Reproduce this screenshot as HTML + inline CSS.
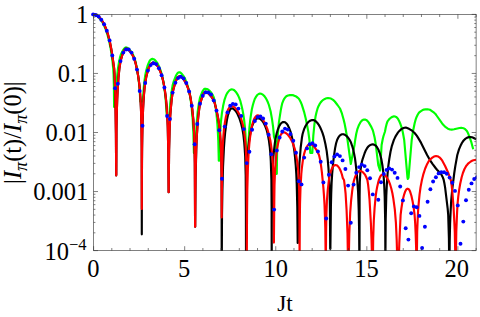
<!DOCTYPE html>
<html>
<head>
<meta charset="utf-8">
<title>|I_pi(t)/I_pi(0)| vs Jt</title>
<style>
html,body{margin:0;padding:0;background:#fff;}
body{width:480px;height:317px;overflow:hidden;font-family:"Liberation Serif",serif;}
svg{display:block;}
text{font-family:"Liberation Serif",serif;fill:#000;}
</style>
</head>
<body>
<svg width="480" height="317" viewBox="0 0 480 317">
<rect width="480" height="317" fill="#fff"/>
<defs><clipPath id="c"><rect x="90.6" y="11.4" width="385.9" height="239.6"/></clipPath></defs>
<g clip-path="url(#c)" fill="none" stroke-linejoin="round" stroke-linecap="butt">
<path stroke="#00ff00" stroke-width="2.15" d="M93.5 14.4L96.1 15.4L97.3 16.1L98.3 16.9L100.3 19.2L102.5 22.4L104.3 26.0L106.1 30.4L107.8 35.9L109.2 41.5L110.5 47.7L111.4 53.3L112.7 63.1L113.3 70.0L113.6 74.6L113.9 85.9L114.1 107.0L115.4 107.0L116.0 92.2L116.8 79.9L117.8 69.9L119.1 61.5L120.1 57.0L120.8 54.7L122.2 51.8L123.6 49.3L124.4 48.3L125.2 47.7L126.2 47.4L127.3 47.8L128.9 48.9L130.4 50.6L131.9 52.6L133.2 55.1L134.2 57.3L135.1 60.0L136.6 66.6L137.7 73.1L138.5 78.6L139.6 89.0L140.3 101.5L142.7 101.5L143.8 87.3L144.4 81.5L145.1 76.3L145.8 72.4L146.7 68.8L147.6 65.7L148.8 62.7L149.6 61.0L150.6 59.8L151.5 59.1L152.5 58.9L153.6 59.2L154.8 60.0L156.0 61.3L157.3 63.0L159.1 66.6L160.8 71.0L162.0 75.4L163.3 81.3L164.5 89.0L165.4 96.4L166.1 105.2L166.7 115.0L169.4 115.0L170.2 103.7L171.2 94.1L172.6 85.4L173.7 81.5L175.8 76.1L176.5 74.7L177.1 73.7L177.9 72.8L178.7 72.4L179.6 72.3L180.4 72.6L181.8 73.8L183.2 75.6L184.7 78.0L186.0 81.1L187.3 84.6L188.5 88.7L189.3 92.0L190.2 96.7L191.6 106.8L192.7 120.0L193.4 134.0L193.9 153.0L195.2 153.0L195.9 136.5L196.7 122.8L197.7 111.7L199.0 102.6L200.0 97.7L201.9 92.8L203.0 90.6L203.7 89.6L204.5 88.9L205.3 88.7L206.9 89.0L208.4 89.8L209.9 91.1L211.3 92.8L212.6 94.8L213.7 97.1L214.8 101.7L215.4 105.8L216.1 110.6L217.1 120.4L217.6 127.1L218.3 140.7L218.8 160.6L219.3 160.6L219.7 145.6L220.2 132.4L220.9 122.2L221.9 113.3L223.1 106.1L224.4 100.2L226.0 95.5L226.9 93.6L227.9 92.1L229.4 90.4L230.2 89.9L231.0 89.5L231.8 89.4L232.6 89.5L233.4 89.7L234.3 90.2L235.9 91.9L237.5 94.3L239.0 97.4L240.4 101.2L241.5 105.4L242.5 109.9L243.4 114.8L244.2 120.5L244.9 126.8L245.4 133.4L246.3 150.0L248.2 150.0L249.0 133.6L249.5 126.8L250.2 120.3L251.0 114.7L251.8 109.6L252.8 105.3L253.9 101.5L254.9 98.7L256.1 96.6L257.3 95.0L258.6 94.0L259.9 93.6L261.4 93.8L262.9 94.7L264.4 96.1L265.6 97.8L266.7 99.8L267.9 102.3L268.9 105.0L270.6 111.3L272.0 119.1L273.1 126.9L274.0 136.6L275.3 140.7L275.9 144.9L276.2 157.0L276.5 174.0L276.7 174.0L276.8 173.7L277.1 150.9L277.5 141.6L277.9 134.0L278.9 122.4L280.7 110.6L281.5 106.5L282.3 103.1L283.2 100.8L284.2 98.8L285.2 97.4L286.3 96.3L288.0 95.5L289.9 95.1L291.9 95.0L293.7 95.4L295.6 96.2L297.5 97.5L298.9 98.8L299.5 99.8L300.7 102.0L301.8 104.7L304.0 111.6L305.6 118.0L306.6 122.8L308.3 131.6L309.5 140.5L310.3 153.0L312.3 153.0L313.3 135.9L314.4 124.5L315.6 116.2L316.5 112.2L317.5 108.7L318.2 106.8L319.4 104.4L320.6 102.5L321.9 101.0L323.3 99.8L324.8 98.9L326.4 98.3L328.0 98.1L329.8 98.3L331.4 98.8L333.1 99.9L334.8 101.5L337.5 105.0L340.0 108.5L341.7 112.8L343.6 119.5L344.7 124.1L345.6 128.8L347.5 139.8L350.8 164.0L354.5 145.0L355.2 139.9L356.3 133.5L357.3 129.4L359.0 124.9L360.1 122.9L361.0 121.5L362.0 120.5L363.0 119.8L364.1 119.5L365.2 119.6L366.1 119.9L367.0 120.5L367.9 121.4L368.8 122.6L371.4 127.1L372.8 130.2L373.1 131.3L374.5 136.9L375.6 143.2L378.3 165.2L380.1 170.6L381.6 145.0L382.8 138.7L383.5 136.0L385.0 131.5L385.7 127.7L386.5 124.4L387.5 121.4L388.7 119.8L389.9 118.5L391.2 117.5L392.5 116.8L394.0 116.4L395.1 116.5L396.1 116.9L397.2 117.8L398.2 119.2L399.1 120.9L400.1 123.2L401.4 126.8L402.3 130.1L402.9 132.7L404.2 140.0L407.5 177.8L407.8 179.0L408.5 177.8L411.7 140.0L413.0 131.3L414.7 123.0L415.6 119.7L416.6 116.9L417.8 114.5L419.0 112.6L420.6 111.3L422.2 110.3L423.9 109.6L425.6 109.3L427.6 109.3L429.9 109.8L430.8 110.3L434.1 112.7L435.2 113.7L436.2 115.0L441.6 122.7L443.0 124.6L445.7 127.2L447.9 128.7L450.1 129.5L451.7 129.6L454.1 129.3L459.5 128.0L461.2 127.8L463.5 128.2L464.3 128.6L465.2 129.2L466.4 130.4L467.3 131.7L468.1 133.4L469.3 136.3L471.4 142.4L473.2 149.3"/>
<path stroke="#000" stroke-width="2.15" d="M93.5 14.4L95.2 14.8L96.8 15.4L98.4 16.5L99.7 17.6L101.5 19.9L102.9 22.0L104.2 24.5L105.5 27.4L106.6 30.3L107.8 33.8L109.7 41.0L111.5 50.2L113.3 62.3L114.1 68.2L114.5 73.3L115.3 94.0L115.9 133.1L116.2 175.5L116.3 174.6L116.5 128.7L116.8 112.5L117.2 99.8L117.8 87.6L118.5 77.4L119.4 68.5L120.5 61.1L122.2 55.4L124.1 50.7L124.7 49.6L125.4 48.9L126.2 48.6L126.9 48.7L128.2 49.5L129.7 51.0L131.2 52.9L132.6 55.3L134.4 59.3L135.4 62.4L136.2 66.0L138.2 75.8L139.5 85.6L140.4 97.3L141.1 112.0L141.5 129.0L141.7 147.7L141.8 234.3L141.9 178.9L142.1 148.7L142.5 125.7L143.1 108.1L144.0 94.1L144.6 87.7L145.3 82.4L146.2 77.2L147.3 72.8L148.6 68.4L149.9 65.6L150.8 64.2L151.7 63.2L152.7 62.8L153.7 62.7L154.7 63.2L155.9 64.1L157.1 65.5L158.2 67.3L159.3 69.2L160.3 71.5L162.1 76.6L163.6 83.1L165.0 91.2L165.9 98.4L166.7 106.7L167.2 115.5L167.7 126.3L168.3 152.4L168.6 192.2L168.7 192.2L168.7 190.8L169.1 150.0L169.7 127.2L170.2 116.4L170.9 107.6L171.7 99.4L172.6 92.5L174.3 86.0L176.4 79.9L177.1 78.4L177.9 77.2L178.8 76.6L179.6 76.3L180.7 76.5L181.9 77.4L183.3 78.8L184.5 80.7L185.8 82.9L187.0 85.5L188.1 88.3L189.1 91.5L190.0 95.2L190.8 99.3L192.3 109.4L193.3 119.6L194.1 132.4L194.5 146.6L194.8 163.2L195.1 226.7L195.2 226.7L195.6 177.7L196.3 149.2L196.8 136.9L197.5 125.4L198.3 116.2L199.3 108.1L200.0 103.8L201.8 98.3L203.6 93.7L204.3 92.6L205.1 91.9L205.8 91.7L206.5 91.9L207.6 92.6L208.8 93.7L211.4 96.7L213.7 100.3L214.7 103.2L215.6 106.6L217.6 115.2L218.5 120.4L219.3 125.5L219.8 130.7L220.7 143.8L221.3 159.4L221.6 180.9L221.7 262.0L221.8 259.9L222.0 215.5L222.4 190.8L223.0 167.3L223.9 148.3L224.5 139.6L225.2 132.0L226.1 125.3L226.9 120.0L227.9 115.3L229.0 112.0L230.1 109.6L230.7 108.9L231.3 108.5L232.1 108.3L233.0 108.6L234.1 109.4L235.3 110.6L236.3 112.0L237.4 113.7L239.3 118.0L240.9 122.8L242.3 128.4L243.4 134.8L244.2 142.2L244.7 148.7L245.2 156.5L245.7 175.4L245.9 206.3L246.0 262.0L246.1 219.5L246.4 190.5L246.9 170.0L247.9 153.2L248.5 146.1L249.2 139.7L250.2 134.1L251.2 129.3L252.4 125.2L253.7 122.2L255.1 119.9L255.9 119.1L256.7 118.6L257.6 118.3L258.6 118.3L259.7 118.7L260.8 119.4L261.9 120.4L262.9 121.8L263.9 123.4L264.8 125.2L266.5 129.5L267.8 134.5L268.9 140.3L269.8 147.3L270.4 153.9L270.8 161.0L271.4 180.0L271.6 205.9L271.7 262.0L271.8 220.3L272.1 191.0L272.6 171.4L273.4 156.7L274.1 149.6L274.8 143.3L275.7 137.7L276.7 133.2L277.9 129.3L279.2 126.1L280.6 123.9L281.3 123.1L282.1 122.5L283.0 122.1L283.9 122.0L284.8 122.2L285.6 122.7L286.5 123.5L287.4 124.6L289.0 127.7L290.6 131.8L291.9 136.9L293.1 142.9L294.2 149.8L295.0 157.0L295.7 164.8L296.3 174.0L296.7 183.4L297.3 207.2L297.7 243.0L297.8 243.0L298.1 207.7L298.4 189.8L298.8 175.7L299.4 163.7L300.7 147.5L302.0 137.2L302.6 134.0L303.2 132.0L304.2 128.9L305.4 126.2L306.6 124.2L307.9 122.5L309.2 121.3L310.5 120.5L312.0 120.1L313.4 120.1L314.7 120.6L316.0 121.5L317.4 123.0L318.8 124.9L320.1 127.2L321.3 129.9L322.5 132.9L323.6 136.3L324.5 139.9L325.4 144.0L326.7 151.1L327.7 159.4L328.5 168.7L329.1 179.3L329.6 190.8L329.9 206.1L330.2 248.8L330.4 248.8L330.4 246.0L330.9 206.8L331.2 194.0L331.6 183.2L332.2 173.3L333.0 164.2L333.8 157.2L335.1 148.1L336.1 143.3L337.2 139.7L338.1 137.9L339.0 136.5L340.0 135.4L341.0 134.7L342.0 134.3L343.0 134.2L344.0 134.4L345.2 135.0L346.3 135.8L347.5 137.0L348.6 138.4L349.7 140.0L351.0 142.6L352.1 145.8L353.2 149.4L354.1 153.7L355.0 158.4L355.7 163.8L357.0 176.4L358.1 191.9L358.7 209.4L359.1 228.9L359.4 262.0L359.5 262.0L359.6 195.9L359.8 181.7L360.3 173.0L360.7 168.9L361.2 165.1L361.9 161.8L362.7 158.8L364.7 153.0L365.6 150.8L366.9 148.4L368.3 146.5L369.4 145.6L370.5 144.9L371.6 144.5L372.8 144.4L373.9 144.6L374.9 145.1L375.9 145.8L376.8 146.9L377.6 148.2L378.5 149.8L380.0 153.9L381.3 159.0L382.4 165.2L383.2 171.7L383.8 178.7L384.3 187.3L384.7 196.8L385.2 222.4L385.4 262.0L385.7 219.6L386.3 195.4L386.8 185.2L387.5 174.7L388.3 166.2L389.3 158.9L390.5 151.8L391.9 145.8L393.8 140.1L395.3 136.9L396.5 134.8L397.9 132.7L399.1 131.2L400.4 129.9L401.7 128.9L403.0 128.2L404.4 127.7L405.8 127.6L409.0 128.8L412.1 130.7L414.6 133.0L416.9 135.9L418.3 138.1L421.1 142.9L427.1 154.9L429.8 159.8L432.5 163.8L435.6 168.0L437.0 169.7L439.9 172.7L441.1 174.1L442.5 176.7L443.6 179.5L444.3 182.7L445.1 187.4L447.7 208.9L448.2 214.8L448.9 237.8L449.2 262.0L449.5 262.0L449.7 241.3L450.1 223.4L450.6 211.9L451.2 200.6L452.3 188.8L454.2 173.5L455.3 166.1L457.3 155.0L459.0 149.4L460.9 144.9L461.9 143.0L463.0 141.3L464.1 140.0L465.3 138.9L466.5 138.0L467.8 137.4L469.2 137.1L470.6 137.0L472.0 137.2L473.3 137.7L474.7 138.5L476.0 139.5"/>
<path stroke="#ff0000" stroke-width="2.15" d="M93.5 14.4L95.2 14.8L96.8 15.4L98.4 16.5L99.7 17.6L101.5 19.9L102.9 22.0L104.2 24.5L105.5 27.4L106.6 30.3L107.8 33.8L109.7 41.0L111.5 50.2L113.3 62.3L114.1 68.2L114.5 73.3L115.3 94.0L115.9 133.1L116.2 175.5L116.3 174.6L116.5 128.7L116.8 112.5L117.2 99.8L117.8 87.6L118.5 77.4L119.4 68.5L120.5 61.4L122.1 55.7L124.0 50.9L124.6 49.8L125.3 49.1L126.0 48.6L126.7 48.6L127.7 49.1L129.2 50.4L130.6 52.0L131.9 54.1L133.1 56.3L134.2 58.7L135.8 63.9L137.8 73.9L139.1 82.6L140.2 93.8L140.9 106.8L141.3 121.1L141.6 141.4L141.8 209.0L141.9 167.6L142.2 137.6L142.7 117.5L143.5 100.5L144.1 93.0L144.8 86.4L145.3 82.1L146.2 77.2L147.3 72.6L148.7 68.2L149.9 65.5L151.2 63.7L152.1 63.0L153.0 62.7L154.0 62.8L155.0 63.4L156.1 64.3L157.2 65.7L158.3 67.4L159.4 69.5L161.3 74.2L162.7 79.0L164.0 85.1L165.3 93.3L166.1 100.7L166.8 108.6L167.3 117.3L167.8 127.7L168.3 152.4L168.6 192.2L168.7 192.2L168.7 190.8L169.1 150.0L169.7 127.2L170.2 116.4L170.9 107.6L171.7 99.4L172.6 92.5L174.3 86.0L176.4 79.9L177.1 78.4L177.9 77.2L178.8 76.6L179.6 76.3L180.7 76.5L181.9 77.4L183.3 78.8L184.5 80.7L185.8 82.9L187.0 85.5L188.1 88.3L189.1 91.5L190.0 95.2L190.8 99.3L192.3 109.4L193.3 119.6L194.1 132.3L194.5 146.5L194.8 162.9L195.1 226.7L195.2 226.1L195.4 193.1L195.7 168.6L196.2 150.2L196.8 135.7L197.8 121.1L199.1 109.8L200.0 103.8L202.0 97.6L203.2 94.6L203.9 93.3L204.8 92.2L205.6 91.8L206.5 91.9L208.0 92.9L209.6 94.4L211.2 96.3L212.5 98.2L213.7 100.3L214.7 103.1L215.6 106.6L217.2 113.6L218.4 119.5L219.3 126.0L220.0 133.1L220.6 141.4L221.0 151.1L221.5 173.8L221.7 217.4L222.0 175.6L222.5 153.7L222.8 144.6L223.4 136.2L224.0 128.8L224.9 122.5L225.9 116.7L227.2 112.1L227.8 110.3L228.5 108.8L229.3 107.7L230.0 106.8L230.8 106.3L231.6 106.1L232.6 106.3L233.5 106.7L234.6 107.5L235.7 108.5L236.8 109.9L237.8 111.4L239.4 114.4L240.8 117.7L242.0 121.5L243.1 125.8L244.0 130.7L244.7 135.8L245.3 141.5L245.8 148.2L246.3 160.7L246.6 179.1L246.8 205.8L246.8 262.0L247.0 215.6L247.3 190.4L247.9 168.4L248.7 151.8L249.3 144.1L250.1 137.1L251.0 131.1L251.9 126.2L253.0 122.0L254.2 118.9L255.5 116.7L256.2 116.1L256.8 115.6L257.8 115.4L258.7 115.6L259.8 116.3L260.9 117.3L262.1 118.6L263.3 120.3L265.5 124.3L267.3 128.9L268.9 134.2L270.3 140.2L271.3 146.7L272.1 152.9L272.6 159.9L273.1 167.6L273.4 177.1L273.8 203.2L273.9 242.6L274.3 199.5L274.5 185.5L274.9 174.6L275.5 164.2L276.2 155.7L277.1 148.4L278.2 142.7L279.6 137.6L280.3 135.7L281.1 134.3L282.0 133.2L282.8 132.6L283.8 132.3L284.8 132.5L286.1 133.2L287.5 134.4L288.8 136.0L290.2 137.9L291.4 140.2L292.6 142.6L293.6 145.3L294.6 148.3L296.1 154.6L297.3 162.1L298.2 170.4L298.8 180.6L299.2 191.9L299.4 206.3L299.6 262.0L299.8 222.3L300.0 204.3L300.5 187.9L301.3 173.9L301.9 167.7L302.6 162.4L303.3 157.7L304.2 153.6L305.2 150.2L306.3 147.6L307.5 145.7L308.2 145.0L308.8 144.5L309.7 144.2L310.5 144.2L311.4 144.4L312.4 145.0L313.4 146.0L314.5 147.2L316.7 150.4L317.9 152.7L319.0 155.0L320.1 159.7L321.0 165.4L321.9 172.3L323.4 187.8L324.0 195.9L324.5 204.4L324.9 215.2L325.3 228.3L325.7 262.0L325.8 262.0L326.1 232.0L326.4 214.7L326.9 201.1L327.7 190.5L328.8 180.9L329.4 176.9L330.2 173.4L331.1 170.5L332.0 168.3L333.0 166.6L334.1 165.5L334.7 165.2L335.3 165.0L336.6 165.2L337.8 166.1L339.0 167.6L339.9 169.3L340.9 171.5L341.9 174.5L342.8 178.1L344.0 180.0L344.2 181.4L344.9 187.1L345.6 193.7L346.6 210.5L347.5 233.4L348.0 262.0L348.7 262.0L348.7 261.4L349.3 233.8L350.2 212.5L351.1 200.6L352.2 190.8L352.9 186.0L353.6 182.0L354.3 179.3L355.3 176.4L356.4 174.0L357.6 172.3L358.7 171.2L359.4 171.0L360.0 170.9L361.3 171.2L362.7 172.1L364.0 173.4L365.3 175.2L366.4 177.5L367.4 180.0L368.1 184.7L368.8 191.1L369.5 199.2L370.9 223.5L371.5 238.9L372.1 262.0L372.9 262.0L373.2 238.4L373.8 220.8L374.6 207.9L375.7 196.2L376.4 191.1L377.2 186.7L378.1 182.9L379.0 179.6L379.9 177.3L380.9 175.6L381.9 174.7L382.9 174.3L383.6 174.5L384.3 174.8L385.8 176.1L387.4 178.4L388.8 181.1L390.1 184.5L391.3 188.5L392.4 193.2L393.3 198.4L394.8 209.3L395.9 222.6L396.7 240.2L397.3 262.0L398.7 262.0L398.7 261.9L399.3 243.8L400.6 215.2L401.4 208.4L402.4 202.0L403.3 197.8L404.2 194.3L405.2 191.4L406.1 189.7L406.6 189.1L407.1 188.8L407.7 188.7L408.2 188.9L408.7 189.2L409.2 189.8L410.1 191.6L411.4 195.8L412.6 201.2L413.7 207.8L414.6 215.0L415.2 223.8L415.7 234.7L416.1 246.7L416.4 261.6L416.5 262.0L416.8 262.0L417.2 231.5L417.6 221.5L418.1 210.6L418.8 202.1L419.6 194.1L420.6 186.9L421.8 180.6L423.4 174.1L425.2 168.5L427.2 163.9L428.3 161.9L429.5 160.2L430.9 158.8L432.3 157.7L433.6 156.8L434.9 156.3L436.1 156.1L437.2 156.2L438.3 156.6L439.4 157.3L440.6 158.5L441.9 160.1L445.1 166.0L448.4 173.3L450.0 177.6L450.9 180.3L451.7 185.9L452.4 192.5L453.6 208.0L454.3 221.4L454.8 232.3L455.4 262.0L455.8 262.0L456.3 231.6L457.1 211.9L457.6 203.4L458.3 196.3L459.2 189.6L460.2 183.8L461.6 177.5L462.9 173.0L464.5 169.0L466.3 165.7L467.2 164.7L468.4 163.3L470.8 161.5L472.1 160.8L473.4 160.3L474.7 160.0L476.0 159.8"/>
<g fill="#0000ff" stroke="none"><circle cx="93.1" cy="14.4" r="1.95"/><circle cx="95.8" cy="15.0" r="1.95"/><circle cx="98.6" cy="16.6" r="1.95"/><circle cx="101.3" cy="19.7" r="1.95"/><circle cx="104.1" cy="24.2" r="1.95"/><circle cx="106.8" cy="30.8" r="1.95"/><circle cx="109.6" cy="40.4" r="1.95"/><circle cx="112.3" cy="55.4" r="1.95"/><circle cx="115.0" cy="88.2" r="1.95"/><circle cx="117.8" cy="83.8" r="1.95"/><circle cx="120.5" cy="61.1" r="1.95"/><circle cx="123.3" cy="52.6" r="1.95"/><circle cx="126.0" cy="49.5" r="1.95"/><circle cx="128.7" cy="49.5" r="1.95"/><circle cx="131.5" cy="52.6" r="1.95"/><circle cx="134.2" cy="58.7" r="1.95"/><circle cx="137.0" cy="69.6" r="1.95"/><circle cx="139.7" cy="91.0" r="1.95"/><circle cx="142.5" cy="125.8" r="1.95"/><circle cx="145.2" cy="83.0" r="1.95"/><circle cx="147.9" cy="70.6" r="1.95"/><circle cx="150.7" cy="65.1" r="1.95"/><circle cx="153.4" cy="63.2" r="1.95"/><circle cx="156.2" cy="64.1" r="1.95"/><circle cx="158.9" cy="68.3" r="1.95"/><circle cx="161.6" cy="75.2" r="1.95"/><circle cx="164.4" cy="87.5" r="1.95"/><circle cx="167.1" cy="116.0" r="1.95"/><circle cx="169.9" cy="119.0" r="1.95"/><circle cx="172.6" cy="92.6" r="1.95"/><circle cx="175.4" cy="82.7" r="1.95"/><circle cx="178.1" cy="78.1" r="1.95"/><circle cx="180.8" cy="76.8" r="1.95"/><circle cx="183.6" cy="78.5" r="1.95"/><circle cx="186.3" cy="83.0" r="1.95"/><circle cx="189.1" cy="91.4" r="1.95"/><circle cx="191.8" cy="105.8" r="1.95"/><circle cx="194.6" cy="144.2" r="1.95"/><circle cx="197.3" cy="124.0" r="1.95"/><circle cx="200.0" cy="103.8" r="1.95"/><circle cx="202.8" cy="95.8" r="1.95"/><circle cx="205.5" cy="92.4" r="1.95"/><circle cx="208.3" cy="92.4" r="1.95"/><circle cx="211.0" cy="94.5" r="1.95"/><circle cx="213.7" cy="100.4" r="1.95"/><circle cx="216.5" cy="110.6" r="1.95"/><circle cx="219.2" cy="130.3" r="1.95"/><circle cx="222.0" cy="178.8" r="1.95"/><circle cx="224.7" cy="126.6" r="1.95"/><circle cx="227.5" cy="112.4" r="1.95"/><circle cx="230.2" cy="105.8" r="1.95"/><circle cx="232.9" cy="103.9" r="1.95"/><circle cx="235.7" cy="104.5" r="1.95"/><circle cx="238.4" cy="108.6" r="1.95"/><circle cx="241.2" cy="115.9" r="1.95"/><circle cx="243.9" cy="129.1" r="1.95"/><circle cx="246.7" cy="163.1" r="1.95"/><circle cx="249.4" cy="151.8" r="1.95"/><circle cx="252.1" cy="129.8" r="1.95"/><circle cx="254.9" cy="121.0" r="1.95"/><circle cx="257.6" cy="117.1" r="1.95"/><circle cx="260.4" cy="116.5" r="1.95"/><circle cx="263.1" cy="118.5" r="1.95"/><circle cx="265.8" cy="123.6" r="1.95"/><circle cx="268.6" cy="134.7" r="1.95"/><circle cx="271.3" cy="154.3" r="1.95"/><circle cx="274.1" cy="209.6" r="1.95"/><circle cx="276.8" cy="150.5" r="1.95"/><circle cx="279.6" cy="137.5" r="1.95"/><circle cx="282.3" cy="131.5" r="1.95"/><circle cx="285.0" cy="128.6" r="1.95"/><circle cx="287.8" cy="129.6" r="1.95"/><circle cx="290.5" cy="134.0" r="1.95"/><circle cx="293.3" cy="140.8" r="1.95"/><circle cx="296.0" cy="152.8" r="1.95"/><circle cx="298.8" cy="181.3" r="1.95"/><circle cx="301.5" cy="184.4" r="1.95"/><circle cx="304.2" cy="157.6" r="1.95"/><circle cx="307.0" cy="148.4" r="1.95"/><circle cx="309.7" cy="144.3" r="1.95"/><circle cx="312.5" cy="143.2" r="1.95"/><circle cx="315.2" cy="145.5" r="1.95"/><circle cx="317.9" cy="151.4" r="1.95"/><circle cx="320.7" cy="161.7" r="1.95"/><circle cx="323.4" cy="182.4" r="1.95"/><circle cx="326.2" cy="218.5" r="1.95"/><circle cx="328.9" cy="174.7" r="1.95"/><circle cx="331.7" cy="162.3" r="1.95"/><circle cx="334.4" cy="156.4" r="1.95"/><circle cx="337.1" cy="154.4" r="1.95"/><circle cx="339.9" cy="156.1" r="1.95"/><circle cx="342.6" cy="160.4" r="1.95"/><circle cx="345.4" cy="169.0" r="1.95"/><circle cx="348.1" cy="185.6" r="1.95"/><circle cx="350.8" cy="222.8" r="1.95"/><circle cx="353.6" cy="184.6" r="1.95"/><circle cx="356.3" cy="172.8" r="1.95"/><circle cx="359.1" cy="167.1" r="1.95"/><circle cx="361.8" cy="164.6" r="1.95"/><circle cx="364.6" cy="166.1" r="1.95"/><circle cx="367.3" cy="170.3" r="1.95"/><circle cx="370.0" cy="178.2" r="1.95"/><circle cx="372.8" cy="194.4" r="1.95"/><circle cx="378.3" cy="199.7" r="1.95"/><circle cx="381.0" cy="182.2" r="1.95"/><circle cx="383.8" cy="174.0" r="1.95"/><circle cx="386.5" cy="169.9" r="1.95"/><circle cx="389.2" cy="168.4" r="1.95"/><circle cx="392.0" cy="169.6" r="1.95"/><circle cx="394.7" cy="172.8" r="1.95"/><circle cx="397.5" cy="177.9" r="1.95"/><circle cx="400.2" cy="186.5" r="1.95"/><circle cx="402.9" cy="200.4" r="1.95"/><circle cx="405.7" cy="228.2" r="1.95"/><circle cx="408.4" cy="239.6" r="1.95"/><circle cx="411.2" cy="213.3" r="1.95"/><circle cx="413.9" cy="206.4" r="1.95"/><circle cx="416.7" cy="207.3" r="1.95"/><circle cx="419.4" cy="215.9" r="1.95"/><circle cx="422.1" cy="248.0" r="1.95"/><circle cx="424.9" cy="226.8" r="1.95"/><circle cx="427.6" cy="201.7" r="1.95"/><circle cx="430.4" cy="189.3" r="1.95"/><circle cx="433.1" cy="181.5" r="1.95"/><circle cx="435.9" cy="177.3" r="1.95"/><circle cx="438.6" cy="173.4" r="1.95"/><circle cx="441.3" cy="172.2" r="1.95"/><circle cx="444.1" cy="172.2" r="1.95"/><circle cx="446.8" cy="173.8" r="1.95"/><circle cx="449.6" cy="177.6" r="1.95"/><circle cx="452.3" cy="182.8" r="1.95"/><circle cx="455.0" cy="190.9" r="1.95"/><circle cx="457.8" cy="205.4" r="1.95"/><circle cx="460.5" cy="243.8" r="1.95"/><circle cx="463.3" cy="221.6" r="1.95"/><circle cx="466.0" cy="200.3" r="1.95"/><circle cx="468.8" cy="189.7" r="1.95"/><circle cx="471.5" cy="183.4" r="1.95"/><circle cx="474.2" cy="179.0" r="1.95"/><circle cx="477.0" cy="177.3" r="1.95"/></g>
</g>
<g fill="none" stroke="#333" stroke-width="0.62">
<rect x="93.6" y="14.4" width="382.5" height="236.2"/>
<path d="M93.60 250.6v-4.4M93.60 14.4v4.4M111.81 250.6v-2.6M111.81 14.4v2.6M130.03 250.6v-2.6M130.03 14.4v2.6M148.25 250.6v-2.6M148.25 14.4v2.6M166.46 250.6v-2.6M166.46 14.4v2.6M184.68 250.6v-4.4M184.68 14.4v4.4M202.89 250.6v-2.6M202.89 14.4v2.6M221.10 250.6v-2.6M221.10 14.4v2.6M239.32 250.6v-2.6M239.32 14.4v2.6M257.53 250.6v-2.6M257.53 14.4v2.6M275.75 250.6v-4.4M275.75 14.4v4.4M293.97 250.6v-2.6M293.97 14.4v2.6M312.18 250.6v-2.6M312.18 14.4v2.6M330.39 250.6v-2.6M330.39 14.4v2.6M348.61 250.6v-2.6M348.61 14.4v2.6M366.83 250.6v-4.4M366.83 14.4v4.4M385.04 250.6v-2.6M385.04 14.4v2.6M403.25 250.6v-2.6M403.25 14.4v2.6M421.47 250.6v-2.6M421.47 14.4v2.6M439.68 250.6v-2.6M439.68 14.4v2.6M457.90 250.6v-4.4M457.90 14.4v4.4M476.12 250.6v-2.6M476.12 14.4v2.6M93.6 14.40h4.4M476.1 14.40h-4.4M93.6 55.67h1.8M476.1 55.67h-1.8M93.6 45.28h1.8M476.1 45.28h-1.8M93.6 37.90h1.8M476.1 37.90h-1.8M93.6 32.18h1.8M476.1 32.18h-1.8M93.6 27.50h1.8M476.1 27.50h-1.8M93.6 23.55h1.8M476.1 23.55h-1.8M93.6 20.12h1.8M476.1 20.12h-1.8M93.6 17.10h1.8M476.1 17.10h-1.8M93.6 73.45h4.4M476.1 73.45h-4.4M93.6 114.72h1.8M476.1 114.72h-1.8M93.6 104.33h1.8M476.1 104.33h-1.8M93.6 96.95h1.8M476.1 96.95h-1.8M93.6 91.23h1.8M476.1 91.23h-1.8M93.6 86.55h1.8M476.1 86.55h-1.8M93.6 82.60h1.8M476.1 82.60h-1.8M93.6 79.17h1.8M476.1 79.17h-1.8M93.6 76.15h1.8M476.1 76.15h-1.8M93.6 132.50h4.4M476.1 132.50h-4.4M93.6 173.77h1.8M476.1 173.77h-1.8M93.6 163.38h1.8M476.1 163.38h-1.8M93.6 156.00h1.8M476.1 156.00h-1.8M93.6 150.28h1.8M476.1 150.28h-1.8M93.6 145.60h1.8M476.1 145.60h-1.8M93.6 141.65h1.8M476.1 141.65h-1.8M93.6 138.22h1.8M476.1 138.22h-1.8M93.6 135.20h1.8M476.1 135.20h-1.8M93.6 191.55h4.4M476.1 191.55h-4.4M93.6 232.82h1.8M476.1 232.82h-1.8M93.6 222.43h1.8M476.1 222.43h-1.8M93.6 215.05h1.8M476.1 215.05h-1.8M93.6 209.33h1.8M476.1 209.33h-1.8M93.6 204.65h1.8M476.1 204.65h-1.8M93.6 200.70h1.8M476.1 200.70h-1.8M93.6 197.27h1.8M476.1 197.27h-1.8M93.6 194.25h1.8M476.1 194.25h-1.8M93.6 250.60h4.4M476.1 250.60h-4.4"/>
</g>
<g font-size="24.5"><text x="88.3" y="22.7" text-anchor="end">1</text><text x="88.3" y="81.8" text-anchor="end">0.1</text><text x="88.3" y="140.8" text-anchor="end">0.01</text><text x="88.3" y="199.8" text-anchor="end">0.001</text><text x="86.5" y="260.0" text-anchor="end">10<tspan font-size="16.5" dy="-10">−4</tspan></text><text x="93.3" y="276.7" text-anchor="middle">0</text><text x="184.2" y="276.7" text-anchor="middle">5</text><text x="275.8" y="276.7" text-anchor="middle">10</text><text x="366.5" y="276.7" text-anchor="middle">15</text><text x="456.8" y="276.7" text-anchor="middle">20</text>
<text x="284.9" y="311" font-size="23.3" text-anchor="middle">Jt</text>
<text transform="translate(21.2 132.6) rotate(-90)" text-anchor="middle">|<tspan font-style="italic">I</tspan><tspan font-style="italic" font-size="18" dy="5.5">π</tspan><tspan dy="-5.5">(t)/</tspan><tspan font-style="italic">I</tspan><tspan font-style="italic" font-size="18" dy="5.5">π</tspan><tspan dy="-5.5">(0)|</tspan></text>
</g>
</svg>
</body>
</html>
